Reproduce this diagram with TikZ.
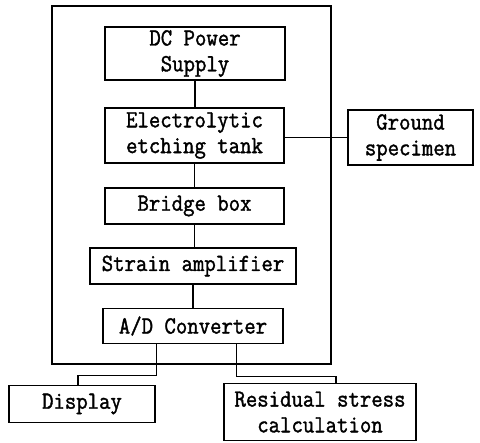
\documentclass[tikz,border=0pt]{standalone}
\usepackage{fontspec}
\usepackage{tikz}
\usetikzlibrary{calc}
\newfontfamily\plotfont[FakeStretch=0.9, FakeBold=1.5]{Latin Modern Mono}

\begin{document}
\begin{tikzpicture}[x=0.3cm, y=0.3cm, line width=1pt,
  blk/.style={draw, line width=1.1pt, align=center, inner sep=0pt,
    font=\plotfont\fontsize{21}{22}\selectfont}]
\useasboundingbox (0,0) rectangle (48,-44.2);
% Enclosing frame of the measuring system
\draw (5.2,-0.6) rectangle (33.1,-36.4);
% Chain of units inside the frame
\node[blk, minimum width=5.4cm, minimum height=1.59cm] (supply) at (19.5,-5.35) {DC Power\\Supply};
\node[blk, minimum width=5.37cm, minimum height=1.65cm] (tank) at (19.45,-13.55) {Electrolytic\\etching tank};
\node[blk, minimum width=5.37cm, minimum height=1.08cm] (bridge) at (19.45,-20.6) {Bridge box};
\node[blk, minimum width=6.18cm, minimum height=1.08cm] (amp) at (19.3,-26.6) {Strain amplifier};
\node[blk, minimum width=5.4cm, minimum height=1.05cm] (adc) at (19.3,-32.6) {A/D Converter};
% Units outside the frame
\node[blk, minimum width=3.75cm, minimum height=1.65cm] (ground) at (41.05,-13.75) {Ground\\specimen};
\node[blk, minimum width=4.38cm, minimum height=1.11cm] (disp) at (8.2,-40.4) {Display};
\node[blk, minimum width=5.76cm, minimum height=1.71cm] (resid) at (32,-41.2) {Residual stress\\calculation};
% Connections
\draw (supply.south) -- (supply.south |- tank.north);
\draw (tank.south) -- (tank.south |- bridge.north);
\draw (bridge.south) -- (bridge.south |- amp.north);
\draw (amp.south) -- (amp.south |- adc.north);
\draw (ground.west) -- (ground.west -| tank.east);
\coordinate (outA) at ($(adc.south west)!0.3!(adc.south east)$);
\coordinate (outB) at ($(adc.south west)!0.74!(adc.south east)$);
\draw (outA) -- ++(0,-3.1) -| ([xshift=-0.12cm]disp.north);
\draw (outB) -- ++(0,-3.2) -| ([xshift=0.48cm]resid.north);
\end{tikzpicture}
\end{document}
